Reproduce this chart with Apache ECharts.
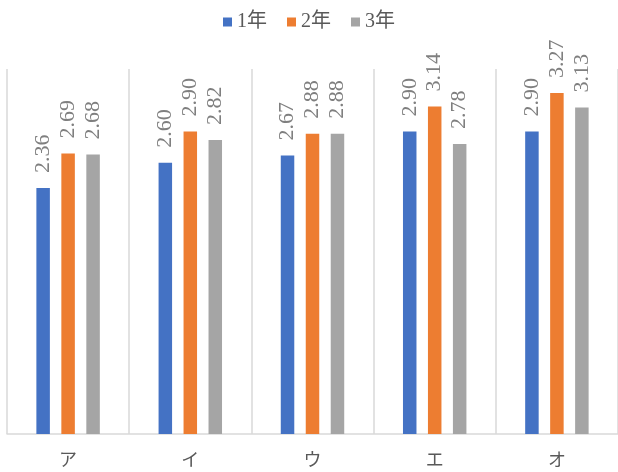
<!DOCTYPE html>
<html>
<head>
<meta charset="utf-8">
<script src="https://cdn.jsdelivr.net/npm/echarts@6/dist/echarts.min.js"></script>
<style>
html,body{margin:0;padding:0;background:#fff;}
#chart{width:618px;height:472px;}
</style>
</head>
<body>
<div id="chart"></div>
<script>
const categories = ['ア', 'イ', 'ウ', 'エ', 'オ'];
const seriesNames = ['1年', '2年', '3年'];
const year1 = [2.36, 2.60, 2.67, 2.90, 2.90];
const year2 = [2.69, 2.90, 2.88, 3.14, 3.27];
const year3 = [2.68, 2.82, 2.88, 2.78, 3.13];
const colors = ['#4472C4', '#ED7D31', '#A5A5A5'];

const font = '"Liberation Serif", "Noto Sans CJK JP", serif';
const chart = echarts.init(document.getElementById('chart'));
const data = [year1, year2, year3];
chart.setOption({
  animation: false,
  color: colors,
  legend: {
    top: 7,
    left: 'center',
    itemWidth: 9,
    itemHeight: 9,
    itemGap: 20,
    icon: 'rect',
    textStyle: { fontFamily: font, fontSize: 20, color: '#595959' },
    data: seriesNames
  },
  grid: { left: 7, top: 69, bottom: 38, width: 616, containLabel: false },
  xAxis: {
    type: 'category',
    data: categories,
    axisLine: { lineStyle: { color: '#d9d9d9', width: 1.5 } },
    axisTick: { show: false },
    splitLine: { show: true, interval: 0, lineStyle: { color: '#d9d9d9', width: 1.5 } },
    axisLabel: { fontFamily: font, fontSize: 18, color: '#595959', margin: 18 }
  },
  yAxis: {
    type: 'value', min: 0, max: 3.5, show: false, splitLine: { show: false }
  },
  series: data.map((d, i) => ({
    name: seriesNames[i],
    type: 'bar',
    data: d,
    barWidth: 13.5,
    barGap: '85%',
    label: {
      show: true,
      position: 'top',
      rotate: 90,
      align: 'left',
      verticalAlign: 'middle',
      distance: 15,
      formatter: p => p.value.toFixed(2),
      fontFamily: font,
      fontSize: 22,
      color: '#7f7f7f'
    }
  }))
});
</script>
</body>
</html>
